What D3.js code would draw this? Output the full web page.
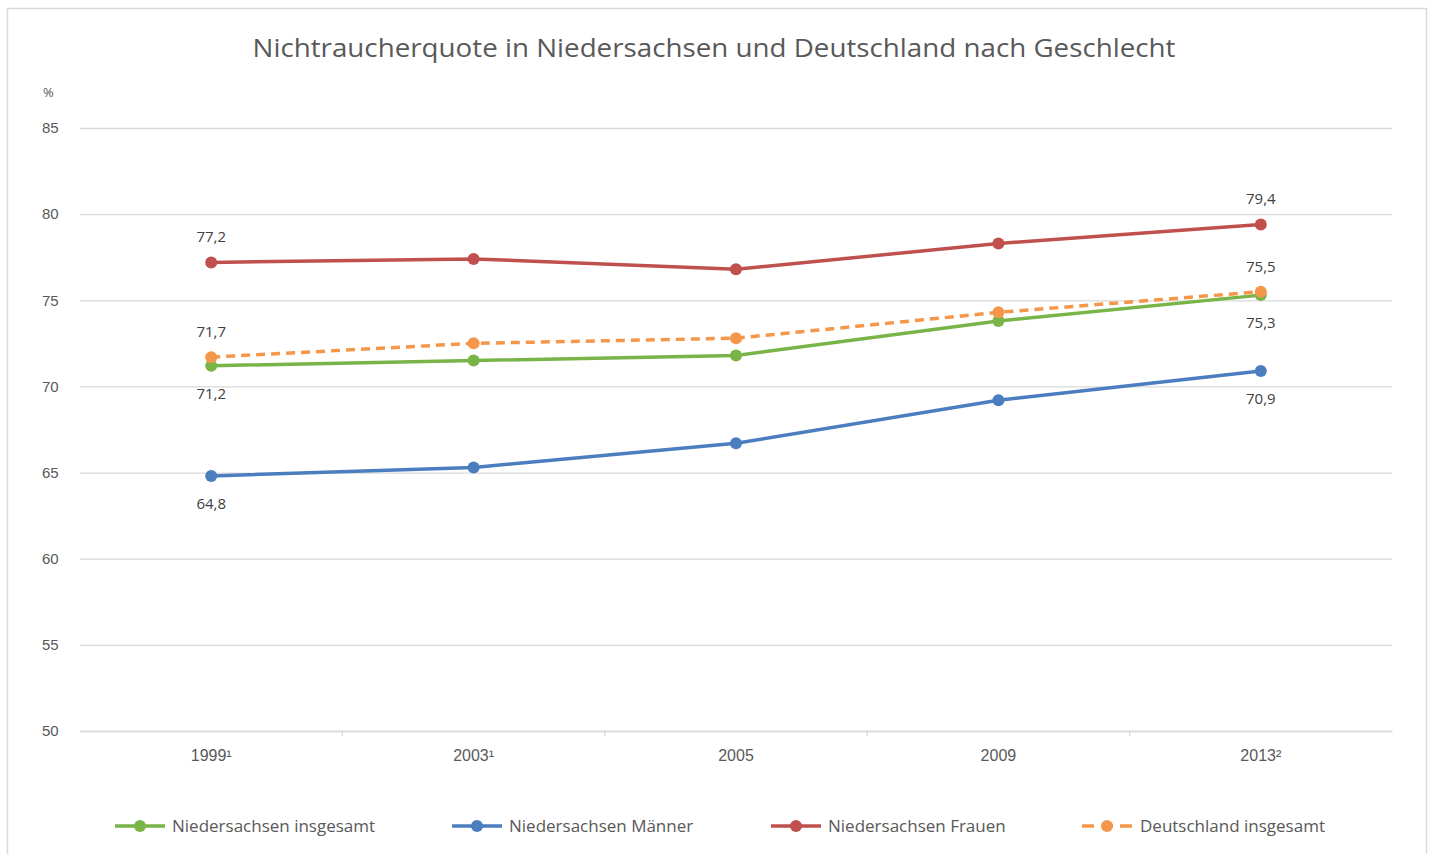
<!DOCTYPE html>
<html><head><meta charset="utf-8">
<script src="https://cdn.jsdelivr.net/npm/d3@7"></script>
<style>body{margin:0;background:#fff}svg{display:block;font-family:"Open Sans",sans-serif}</style>
</head><body>
<svg id="c" width="1433" height="854"></svg>
<script>
const categories = ["1999¹", "2003¹", "2005", "2009", "2013²"];
const gesamtNds = [71.2, 71.5, 71.8, 73.8, 75.3];
const maenner = [64.8, 65.3, 66.7, 69.2, 70.9];
const frauen = [77.2, 77.4, 76.8, 78.3, 79.4];
const deutschland = [71.7, 72.5, 72.8, 74.3, 75.5];
const yTicks = [50, 55, 60, 65, 70, 75, 80, 85];
const seriesNames = ["Niedersachsen insgesamt", "Niedersachsen Männer", "Niedersachsen Frauen", "Deutschland insgesamt"];
const title = "Nichtraucherquote in Niedersachsen und Deutschland nach Geschlecht";

const series = [
  {name: seriesNames[0], values: gesamtNds, color: "#79b448", dash: null, labelPos: "below"},
  {name: seriesNames[1], values: maenner, color: "#4a7ebf", dash: null, labelPos: "below"},
  {name: seriesNames[2], values: frauen, color: "#c0504d", dash: null, labelPos: "above"},
  {name: seriesNames[3], values: deutschland, color: "#f4974a", dash: "9,6", labelPos: "above"}
];

const svg = d3.select("#c");
svg.append("rect").attr("x", 7.5).attr("y", 8.5).attr("width", 1419).attr("height", 860)
  .attr("fill", "none").attr("stroke", "#d9d9d9").attr("stroke-width", 1.5);

const pLeft = 80, pRight = 1392, pTop = 128, pBottom = 731;
const x = d3.scaleBand().domain(categories).range([pLeft, pRight]);
const y = d3.scaleLinear().domain([50, 85]).range([pBottom, pTop]);

svg.append("text").attr("x", 714).attr("y", 57).attr("text-anchor", "middle")
  .attr("font-size", 25).attr("fill", "#595959").attr("textLength", 923).attr("lengthAdjust", "spacingAndGlyphs")
  .text(title);

const yAxis = d3.axisLeft(y).tickValues(yTicks).tickSize(-(pRight - pLeft)).tickFormat(d3.format("d"));
const gy = svg.append("g").attr("transform", `translate(${pLeft},0)`).call(yAxis);
gy.select(".domain").remove();
gy.selectAll(".tick line").attr("stroke", "#d9d9d9").attr("stroke-width", 1.3);
gy.selectAll(".tick text").attr("font-size", 15).attr("fill", "#595959")
  .attr("text-anchor", "start").attr("x", 42 - pLeft).attr("dx", 0);

svg.append("text").attr("x", 43).attr("y", 97).attr("font-size", 13).attr("fill", "#595959").text("%");

const xAxis = d3.axisBottom(x).tickSize(0).tickPadding(19);
const gx = svg.append("g").attr("transform", `translate(0,${pBottom})`).call(xAxis);
gx.select(".domain").attr("stroke", "#d9d9d9").attr("stroke-width", 1.3);
gx.selectAll(".tick text").attr("font-size", 16).attr("fill", "#595959");
gx.selectAll(".sep").data(categories.slice(1)).enter().append("line")
  .attr("x1", d => x(d)).attr("x2", d => x(d)).attr("y1", 0).attr("y2", 5)
  .attr("stroke", "#d9d9d9").attr("stroke-width", 1.3);

const line = d3.line().x((d, i) => x(categories[i]) + x.bandwidth() / 2).y(d => y(d));

series.forEach(s => {
  const g = svg.append("g");
  g.append("path").datum(s.values).attr("d", line).attr("fill", "none")
    .attr("stroke", s.color).attr("stroke-width", 3.5).attr("stroke-dasharray", s.dash);
  g.selectAll("circle").data(s.values).enter().append("circle")
    .attr("cx", (d, i) => x(categories[i]) + x.bandwidth() / 2).attr("cy", d => y(d))
    .attr("r", 6).attr("fill", s.color);
  const lastIdx = s.values.length - 1;
  [0, lastIdx].forEach(i => {
    const v = s.values[i];
    g.append("text").attr("x", x(categories[i]) + x.bandwidth() / 2)
      .attr("y", y(v) + (s.labelPos === "above" ? -20 : 33))
      .attr("text-anchor", "middle").attr("font-size", 15).attr("fill", "#404040")
      .text(v.toFixed(1).replace(".", ","));
  });
});

const legendX = [115, 452, 771, 1082];
const ly = 826;
series.forEach((s, i) => {
  const g = svg.append("g").attr("transform", `translate(${legendX[i]},${ly})`);
  g.append("line").attr("x1", 0).attr("x2", 50).attr("y1", 0).attr("y2", 0)
    .attr("stroke", s.color).attr("stroke-width", 3.5).attr("stroke-dasharray", s.dash ? "12,7" : null);
  g.append("circle").attr("cx", 25).attr("cy", 0).attr("r", 6).attr("fill", s.color);
  g.append("text").attr("x", s.dash ? 58 : 57).attr("y", 6).attr("font-size", 17).attr("fill", "#595959").text(s.name);
});
</script>
</body></html>
